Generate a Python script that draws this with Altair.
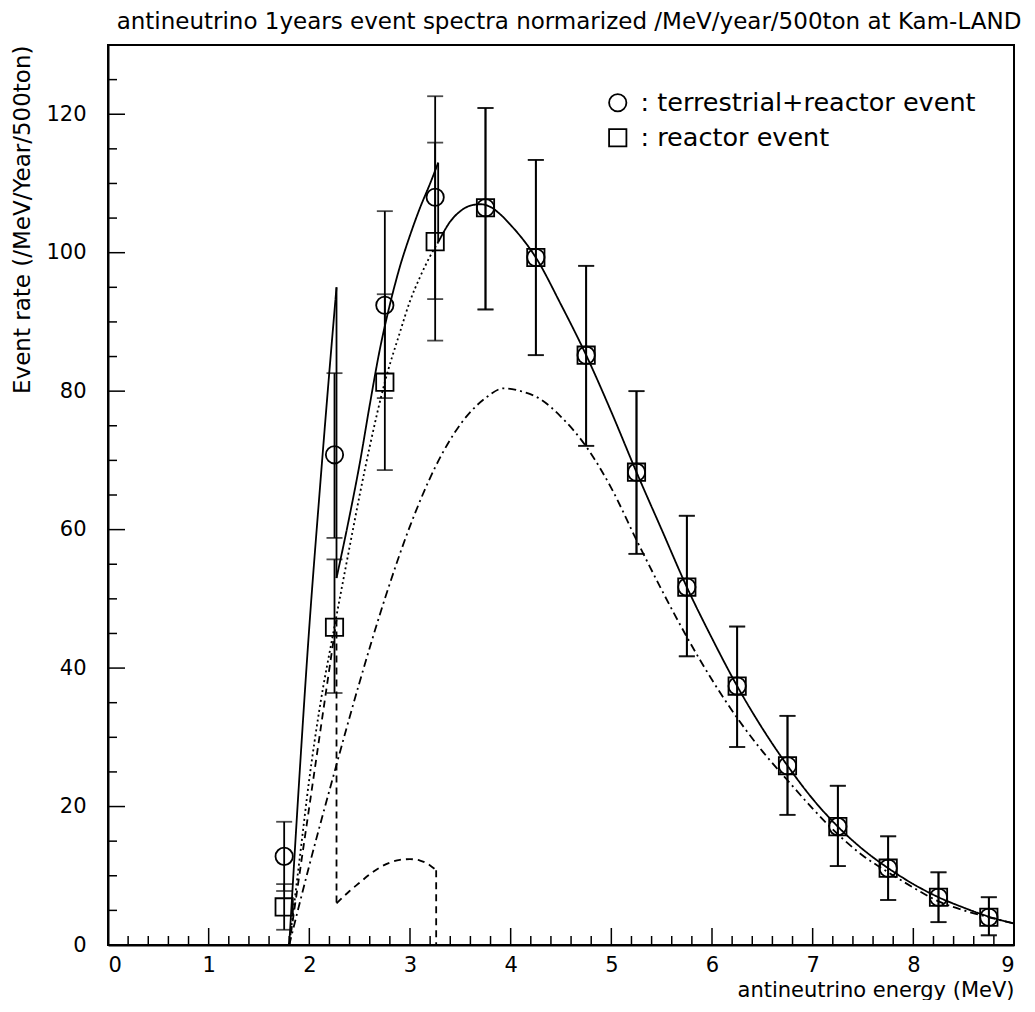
import altair as alt
import pandas as pd

# ---- measured data points (bin centres) ----
energy = [1.75, 2.25, 2.75, 3.25, 3.75, 4.25, 4.75, 5.25, 5.75, 6.25, 6.75, 7.25, 7.75, 8.25, 8.75]

tr_val = [12.8, 70.8, 92.4, 108.0, 106.5, 99.3, 85.2, 68.3, 51.7, 37.4, 25.9, 17.1, 11.1, 6.9, 4.0]
tr_hi = [17.8, 82.6, 106.0, 122.6, 120.9, 113.4, 98.1, 80.0, 62.0, 46.0, 33.1, 23.0, 15.7, 10.5, 6.9]
tr_lo = [7.8, 58.8, 79.0, 93.3, 91.8, 85.2, 72.1, 56.5, 41.7, 28.6, 18.8, 11.4, 6.5, 3.3, 1.4]

r_val = [5.5, 45.9, 81.3, 101.6, 106.5, 99.3, 85.2, 68.3, 51.7, 37.4, 25.9, 17.1, 11.1, 6.9, 4.0]
r_hi = [8.8, 55.7, 94.0, 115.9, 120.9, 113.4, 98.1, 80.0, 62.0, 46.0, 33.1, 23.0, 15.7, 10.5, 6.9]
r_lo = [2.2, 36.4, 68.6, 87.3, 91.8, 85.2, 72.1, 56.5, 41.7, 28.6, 18.8, 11.4, 6.5, 3.3, 1.4]

series_names = ["terrestrial+reactor event", "reactor event"]

# ---- curves (equal consecutive x = vertical drop) ----
solid_x = [1.8, 1.9, 2.0, 2.1, 2.2, 2.27,
           2.27, 2.4, 2.5, 2.6, 2.7, 2.8, 2.9, 3.0, 3.1, 3.2, 3.28,
           3.28, 3.4, 3.5, 3.6, 3.7, 3.8, 3.9, 4.0,
           4.25, 4.5, 4.75, 5.0, 5.25, 5.5, 5.75, 6.0, 6.25, 6.5, 6.75, 7.0, 7.25, 7.5,
           7.75, 8.0, 8.25, 8.5, 8.75, 9.0]
solid_y = [0, 24, 46, 65, 83, 95,
           53, 62, 69.5, 78, 86, 92.5, 98, 102.5, 106.5, 110, 113,
           101.5, 104.5, 106, 106.8, 107, 106.6, 105.5, 104,
           99.3, 92.5, 85.2, 77, 68.3, 60, 51.7, 44.3, 37.4, 31.3, 25.9, 21.1, 17.1, 13.8,
           11.1, 8.8, 6.9, 5.4, 4.1, 3.1]

dotted_x = [1.8, 1.9, 2.0, 2.1, 2.25, 2.4, 2.5, 2.6, 2.75, 2.9, 3.0, 3.1, 3.2, 3.28]
dotted_y = [0, 12, 24, 34, 46, 57.5, 65, 72, 81.3, 88.5, 93, 96.5, 99.5, 101.5]

dashed_x = [1.8, 1.9, 2.0, 2.1, 2.2, 2.27, 2.27, 2.4, 2.5, 2.6, 2.7, 2.8, 2.9, 3.0,
            3.1, 3.2, 3.26, 3.26]
dashed_y = [0, 10, 20, 30, 40, 47, 6, 7.8, 9, 10.2, 11.2, 11.9, 12.3, 12.4,
            12.2, 11.5, 10.8, 0]

dashdot_x = [1.8, 2.0, 2.25, 2.5, 2.75, 3.0, 3.25, 3.5, 3.75, 3.93, 4.1, 4.3, 4.5, 4.75,
             5.0, 5.25, 5.5, 5.75, 6.0, 6.25, 6.5, 6.75, 7.0, 7.25, 7.5, 7.75, 8.0,
             8.25, 8.5, 8.75, 9.0]
dashdot_y = [0, 11.5, 25, 38, 50, 60.5, 69, 75.2, 79, 80.4, 80, 78.8, 76.3, 72,
             66, 58.5, 51.3, 44.5, 38.3, 32.8, 28, 23.8, 19.7, 16, 12.9, 10.5, 8.3,
             6.3, 5, 4, 3.1]

x_major = [0, 1, 2, 3, 4, 5, 6, 7, 8, 9]
y_major = [0, 20, 40, 60, 80, 100, 120]
x_minor = [round(i * 0.2, 1) for i in range(46) if i % 5 != 0]
y_minor = [i * 5 for i in range(26) if i % 4 != 0]

FONT = "DejaVu Sans"
W, H = 906, 900

# split each curve into pieces; vertical drops become their own 2-point pieces
smooth_rows, drop_rows = [], []
for name, xs, ys in [("solid", solid_x, solid_y), ("dotted", dotted_x, dotted_y),
                     ("dashed", dashed_x, dashed_y), ("dashdot", dashdot_x, dashdot_y)]:
    seg, piece = 0, []
    for k in range(len(xs)):
        if k > 0 and xs[k] == xs[k - 1]:
            for i, (a, b) in enumerate(piece):
                smooth_rows.append({"style": name, "seg": f"{name}{seg}", "x": a, "y": b, "i": i})
            drop_rows.append({"style": name, "seg": f"{name}d{seg}", "x": xs[k - 1], "y": ys[k - 1], "i": 0})
            drop_rows.append({"style": name, "seg": f"{name}d{seg}", "x": xs[k], "y": ys[k], "i": 1})
            seg += 1
            piece = []
        piece.append((xs[k], ys[k]))
    if len(piece) > 1:
        for i, (a, b) in enumerate(piece):
            smooth_rows.append({"style": name, "seg": f"{name}{seg}", "x": a, "y": b, "i": i})
smooth = pd.DataFrame(smooth_rows)
drops = pd.DataFrame(drop_rows)

pts = pd.DataFrame(
    [{"series": series_names[0], "e": e, "v": v, "lo": l, "hi": h}
     for e, v, l, h in zip(energy, tr_val, tr_lo, tr_hi)]
    + [{"series": series_names[1], "e": e, "v": v, "lo": l, "hi": h}
       for e, v, l, h in zip(energy, r_val, r_lo, r_hi)]
)
caps = pd.concat([
    pts[["e", "lo"]].rename(columns={"lo": "c"}),
    pts[["e", "hi"]].rename(columns={"hi": "c"}),
])

xsc = alt.Scale(domain=[0, 9], nice=False, zero=False)
ysc = alt.Scale(domain=[0, 130], nice=False)

xaxis = alt.Axis(values=x_major, title="antineutrino energy (MeV)", titleAnchor="end",
                 labelPadding=9, titlePadding=4, titleFontSize=21)
yaxis = alt.Axis(values=y_major, title="Event rate (/MeV/Year/500ton)", titleAnchor="end",
                 labelPadding=22, titlePadding=11, titleFontSize=23)


def X(f):
    return alt.X(f, scale=xsc, axis=xaxis)


def Y(f):
    return alt.Y(f, scale=ysc, axis=yaxis)


dash = alt.StrokeDash(
    "style:N",
    scale=alt.Scale(domain=["solid", "dotted", "dashed", "dashdot"],
                    range=[[1, 0], [2, 3], [7, 5], [8, 4, 2, 4]]),
    legend=None,
)

lines = alt.Chart(smooth).mark_line(color="black", strokeWidth=1.8, interpolate="monotone").encode(
    x=X("x:Q"), y=Y("y:Q"), detail="seg:N", order="i:Q", strokeDash=dash,
)
droplines = alt.Chart(drops).mark_line(color="black", strokeWidth=1.8).encode(
    x=X("x:Q"), y=Y("y:Q"), detail="seg:N", order="i:Q", strokeDash=dash,
)

err = alt.Chart(pts).mark_rule(color="black", strokeWidth=1.8).encode(
    x=X("e:Q"), y=Y("lo:Q"), y2="hi:Q",
)

capm = alt.Chart(caps).mark_tick(orient="horizontal", size=16, thickness=1.8, color="black").encode(
    x=X("e:Q"), y=Y("c:Q"),
)

points = alt.Chart(pts).mark_point(filled=False, size=300, strokeWidth=1.8, color="black",
                                   opacity=1).encode(
    x=X("e:Q"),
    y=Y("v:Q"),
    shape=alt.Shape(
        "series:N",
        scale=alt.Scale(domain=series_names, range=["circle", "square"]),
        legend=alt.Legend(
            title=None, orient="none", legendX=497, legendY=45,
            labelExpr="': ' + datum.label", labelFontSize=25.5, labelFont=FONT,
            labelColor="black", labelOffset=10, labelLimit=0, symbolSize=300,
            symbolStrokeColor="black", symbolStrokeWidth=1.8,
            symbolFillColor="transparent", rowPadding=8, padding=0,
        ),
    ),
)


def xticks(vals, length):
    return alt.Chart(pd.DataFrame({"t": vals})).mark_rule(color="black", strokeWidth=1.5).encode(
        x=X("t:Q"), y=alt.value(H), y2=alt.value(H - length),
    )


def yticks(vals, length):
    return alt.Chart(pd.DataFrame({"t": vals})).mark_rule(color="black", strokeWidth=1.5).encode(
        y=Y("t:Q"), x=alt.value(0), x2=alt.value(length),
    )


chart = alt.layer(
    lines, droplines, err, capm, points,
    xticks(x_major, 17), xticks(x_minor, 9), yticks(y_major, 17), yticks(y_minor, 9),
).properties(
    width=W, height=H,
    padding={"left": 3, "top": 3, "right": 0, "bottom": 0},
    title=alt.TitleParams(
        "antineutrino 1years event spectra normarized /MeV/year/500ton at Kam-LAND",
        fontSize=23, font=FONT, fontWeight="normal", anchor="middle", dx=8, offset=11,
        color="black",
    ),
).configure_view(
    stroke="black", strokeWidth=2,
).configure_axis(
    labelFont=FONT, titleFont=FONT, labelFontSize=21,
    labelColor="black", titleColor="black", titleFontWeight="normal",
    domainColor="black", domainWidth=2, tickSize=0, grid=False,
)

chart.save("out.html", embed_options={"renderer": "svg", "actions": False})
